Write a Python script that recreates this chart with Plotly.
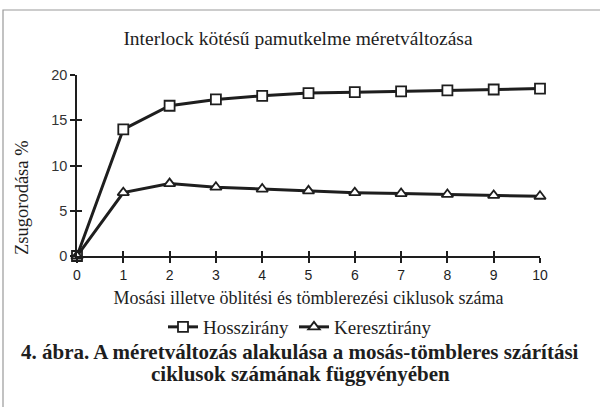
import plotly.graph_objects as go

cycles = [0, 1, 2, 3, 4, 5, 6, 7, 8, 9, 10]
hossz = [0, 14.0, 16.6, 17.3, 17.7, 18.0, 18.1, 18.2, 18.3, 18.4, 18.5]
kereszt = [0, 7.0, 8.0, 7.6, 7.4, 7.2, 7.0, 6.9, 6.8, 6.7, 6.6]
x_ticks = [0, 1, 2, 3, 4, 5, 6, 7, 8, 9, 10]
y_ticks = [0, 5, 10, 15, 20]

serif = "Liberation Serif"
sans = "Liberation Sans"
ink = "#1e1e1e"

L, R, T, B = 77, 60, 75, 151
W, H = 600, 407
pw, ph = W - L - R, H - T - B

fig = go.Figure()
fig.add_trace(go.Scatter(
    x=cycles, y=hossz, name="Hosszirány", mode="lines+markers",
    line=dict(color=ink, width=3),
    marker=dict(symbol="square", size=10, color="white", line=dict(color=ink, width=1.8)),
    cliponaxis=False))
fig.add_trace(go.Scatter(
    x=cycles, y=kereszt, name="Keresztirány", mode="lines+markers",
    line=dict(color=ink, width=3),
    marker=dict(symbol="triangle-up", size=10, color="white", line=dict(color=ink, width=1.8)),
    cliponaxis=False))
# invisible trace for overlay axes (inside ticks to form crossing ticks)
fig.add_trace(go.Scatter(x=[0], y=[0], xaxis="x2", yaxis="y2", mode="markers",
                         marker=dict(opacity=0), showlegend=False, hoverinfo="skip"))

fig.update_layout(
    width=W, height=H,
    margin=dict(l=L, r=R, t=T, b=B),
    paper_bgcolor="white", plot_bgcolor="white",
    title=dict(text="Interlock kötésű pamutkelme méretváltozása",
               x=(298 - L) / pw, xref="paper", xanchor="center", y=1 - 38 / H, yanchor="middle",
               font=dict(family=serif, size=19.5, color=ink)),
    xaxis=dict(range=[0, 10], tickvals=x_ticks, ticks="outside", ticklen=5, tickwidth=1.5,
               tickcolor=ink, showline=True, linecolor=ink, linewidth=1.5, showgrid=False,
               zeroline=False, tickfont=dict(family=sans, size=14, color=ink),
               title=dict(text="Mosási illetve öblitési és tömblerezési ciklusok száma",
                          font=dict(family=serif, size=18, color=ink), standoff=10)),
    yaxis=dict(range=[0, 20], tickvals=y_ticks, ticks="outside", ticklen=5, tickwidth=1.5,
               tickcolor=ink, showline=True, linecolor=ink, linewidth=1.5, showgrid=False,
               zeroline=False, tickfont=dict(family=sans, size=14.5, color="#333333")),
    xaxis2=dict(range=[0, 10], tickvals=x_ticks, ticks="inside", ticklen=5, tickwidth=1.5,
                tickcolor=ink, showticklabels=False, showgrid=False, zeroline=False,
                overlaying="x", anchor="y2", side="bottom"),
    yaxis2=dict(range=[0, 20], tickvals=y_ticks, ticks="inside", ticklen=5, tickwidth=1.5,
                tickcolor=ink, showticklabels=False, showgrid=False, zeroline=False,
                overlaying="y", anchor="x2", side="left"),
    showlegend=True,
    legend=dict(orientation="h", x=(300 - L) / pw, xanchor="center", xref="paper",
                y=(256 - 327) / ph, yanchor="middle",
                font=dict(family=serif, size=19, color=ink),
                itemwidth=30, tracegroupgap=0, bgcolor="rgba(0,0,0,0)"),
)

fig.add_annotation(text="Zsugorodása %", textangle=-90,
                   xref="paper", yref="paper", x=(22 - L) / pw, y=(256 - 198) / ph,
                   showarrow=False, font=dict(family=serif, size=18.5, color=ink),
                   xanchor="center", yanchor="middle")
fig.add_annotation(text="<b>4. ábra. A méretváltozás alakulása a mosás-tömbleres szárítási</b>",
                   xref="paper", yref="paper", x=(300 - L) / pw, y=(256 - 352) / ph,
                   showarrow=False, font=dict(family=serif, size=21, color=ink),
                   xanchor="center", yanchor="middle")
fig.add_annotation(text="<b>ciklusok számának függvényében</b>",
                   xref="paper", yref="paper", x=(300 - L) / pw, y=(256 - 374) / ph,
                   showarrow=False, font=dict(family=serif, size=21, color=ink),
                   xanchor="center", yanchor="middle")

# scan frame lines (left and top)
fig.add_shape(type="path", xref="paper", yref="paper",
              path=f"M {(3 - L) / pw} {(256 - 407) / ph} L {(3 - L) / pw} {(256 - 10) / ph} L {(600 - L) / pw} {(256 - 10) / ph}",
              line=dict(color="#9a9a9a", width=1.2))

fig.write_html("out.html", config={"displayModeBar": False},
               post_script="document.body.style.margin='0';")
